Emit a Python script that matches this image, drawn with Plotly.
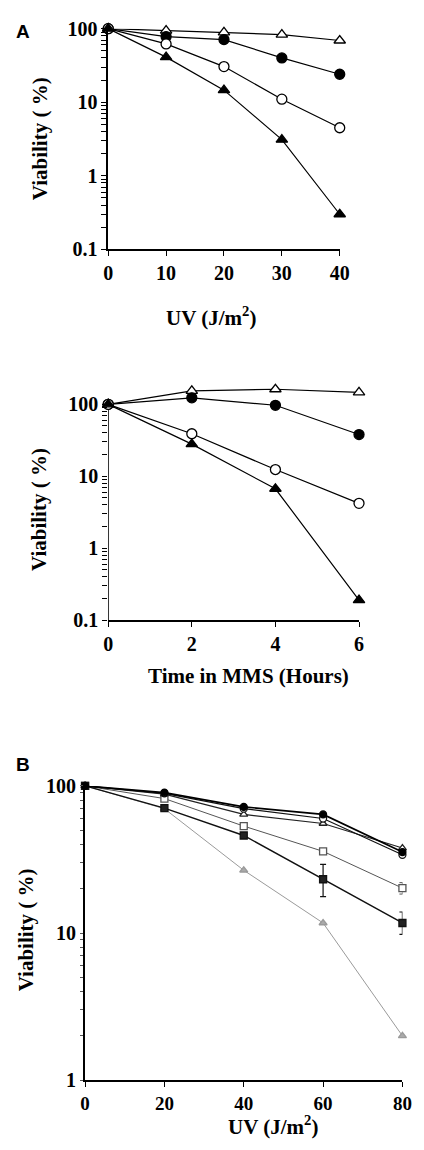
import math
import plotly.graph_objects as go

W, H = 424, 1150

# ---------------- Data ----------------
# Panel A (top): UV dose
uv_a = [0, 10, 20, 30, 40]
a1_open_tri = [100, 94, 89, 83, 69]
a1_fill_circ = [100, 78, 71, 40, 24]
a1_open_circ = [100, 62, 30.5, 11, 4.5]
a1_fill_tri = [100, 41, 14.6, 3.1, 0.30]

# Panel A (bottom): time in MMS
mms_t = [0, 2, 4, 6]
a2_open_tri = [100, 154, 162, 147]
a2_fill_circ = [100, 123, 97, 38]
a2_open_circ = [100, 39, 12.4, 4.2]
a2_fill_tri = [100, 28, 6.7, 0.19]

# Panel B: UV dose
uv_b = [0, 20, 40, 60, 80]
b_fill_circ = [100, 90, 72, 64, 35.5]
b_open_circ = [100, 89, 70, 60, 34]
b_open_tri = [100, 88, 64, 55.5, 37.8]
b_open_sq = [100, 82, 53.3, 35.9, 20.2]
b_open_sq_err = [0, 0, 0, 0, 1.8]
b_fill_sq = [100, 70.6, 46, 23.2, 11.7]
b_fill_sq_err_plus = [0, 0, 0, 6.1, 2.2]
b_fill_sq_err_minus = [0, 0, 0, 5.5, 1.9]
b_gray_tri = [100, 70, 26.7, 11.7, 2.0]

a_yticks = [0.1, 1, 10, 100]
a_yticktext = ["0.1", "1", "10", "100"]
b_yticks = [1, 10, 100]
b_yticktext = ["1", "10", "100"]

# ---------------- Helpers ----------------
def px_x(p):
    return p / W

def px_y(p):
    return 1 - p / H

def log_ticks(decades, labels):
    """Decade ticks with labels plus unlabeled 2..9 ticks within each decade."""
    vals, text = [], []
    for i, d in enumerate(decades):
        vals.append(d)
        text.append(labels[i])
        if i < len(decades) - 1:
            for k in range(2, 10):
                vals.append(round(d * k, 6))
                text.append("")
    return vals, text

SERIF = "Liberation Serif, Times New Roman, serif"

fig = go.Figure()

def add_series(x, y, xa, ya, symbol, fill, line_color, size, lw=1.2, mlw=1.3, err=None):
    kw = {}
    if err is not None:
        kw["error_y"] = err
    fig.add_trace(go.Scatter(
        x=x, y=y, xaxis=xa, yaxis=ya, mode="lines+markers",
        line=dict(color=line_color, width=lw),
        marker=dict(symbol=symbol, size=size, color=fill,
                    line=dict(color=line_color, width=mlw)),
        cliponaxis=False, showlegend=False, **kw))

# Panel A1
for y, sym, fill in [(a1_open_tri, "triangle-up", "white"),
                     (a1_fill_circ, "circle", "black"),
                     (a1_open_circ, "circle", "white"),
                     (a1_fill_tri, "triangle-up", "black")]:
    add_series(uv_a, y, "x", "y", sym, fill, "black", 10)

# Panel A2: y spine drawn only from 0.1 to 100 (the data go above 100)
fig.add_trace(go.Scatter(x=[mms_t[0], mms_t[0]], y=[a_yticks[0], a_yticks[-1]],
                         xaxis="x2", yaxis="y2", mode="lines",
                         line=dict(color="black", width=1.6),
                         hoverinfo="skip", showlegend=False, cliponaxis=False))
for y, sym, fill in [(a2_open_tri, "triangle-up", "white"),
                     (a2_fill_circ, "circle", "black"),
                     (a2_open_circ, "circle", "white"),
                     (a2_fill_tri, "triangle-up", "black")]:
    add_series(mms_t, y, "x2", "y2", sym, fill, "black", 10)

# Panel B
add_series(uv_b, b_gray_tri, "x3", "y3", "triangle-up", "#aaaaaa", "#9a9a9a", 7, lw=1)
add_series(uv_b, b_open_sq, "x3", "y3", "square", "white", "#555555", 7, lw=1,
           err=dict(type="data", array=b_open_sq_err, color="#555555", thickness=1, width=3))
add_series(uv_b, b_fill_sq, "x3", "y3", "square", "#222222", "#111111", 7, lw=1.4,
           err=dict(type="data", array=b_fill_sq_err_plus, arrayminus=b_fill_sq_err_minus,
                    color="#111111", thickness=1.2, width=3))
add_series(uv_b, b_open_tri, "x3", "y3", "triangle-up", "white", "#222222", 7, lw=1.2)
add_series(uv_b, b_open_circ, "x3", "y3", "circle", "white", "#111111", 7, lw=1.2)
add_series(uv_b, b_fill_circ, "x3", "y3", "circle", "black", "black", 7, lw=1.6)

def tickfont(size=20):
    return dict(family=SERIF, size=size, color="black", weight="bold")

def xaxis(domain, rng, tickvals, anchor, lw=1.6, fs=20):
    return dict(domain=domain, range=rng, tickmode="array", tickvals=tickvals,
                ticktext=[str(v) for v in tickvals], anchor=anchor,
                showline=True, linecolor="black", linewidth=lw,
                ticks="outside", ticklen=5, tickwidth=1.4, tickcolor="black",
                showgrid=False, zeroline=False, tickfont=tickfont(fs), fixedrange=True)

def yaxis(domain, rng, tickvals, ticktext, anchor, lw=1.6, ticklen=5, showline=True,
          tickcolor="black", fs=20):
    vals, text = log_ticks(tickvals, ticktext)
    return dict(domain=domain, type="log", range=rng, tickmode="array", tickvals=vals,
                ticktext=text, anchor=anchor,
                showline=showline, linecolor="black", linewidth=lw,
                ticks="outside", ticklen=ticklen, tickwidth=1.3, tickcolor=tickcolor,
                showgrid=False, zeroline=False, tickfont=tickfont(fs), fixedrange=True)

# Panel A2 range extends above 100 so that the >100 points are shown
a2_top = math.log10(180)
a2_pix_per_dec = (621 - 401) / 3.0
a2_top_px = 401 - (a2_top - 2) * a2_pix_per_dec

fig.update_layout(
    width=W, height=H,
    margin=dict(l=0, r=0, t=0, b=0),
    paper_bgcolor="white", plot_bgcolor="white",
    xaxis=xaxis([px_x(107), px_x(347)], [0, 40], uv_a, "y"),
    yaxis=yaxis([px_y(243), px_y(18)], [-1, 2], a_yticks, a_yticktext, "x"),
    xaxis2=xaxis([px_x(107), px_x(367)], [0, 6], mms_t, "y2"),
    yaxis2=yaxis([px_y(621), px_y(a2_top_px)], [-1, a2_top], a_yticks, a_yticktext, "x2",
                 showline=False),
    xaxis3=xaxis([px_x(83), px_x(412)], [0, 80], uv_b, "y3", lw=2, fs=19),
    yaxis3=yaxis([px_y(1090), px_y(790)], [0, 2], b_yticks, b_yticktext, "x3", lw=2,
                 ticklen=3, tickcolor="#555555"),
)

title_font = dict(family=SERIF, size=21, color="black", weight="bold")
letter_font = dict(family="Liberation Sans, Arial, sans-serif", size=19, color="black", weight="bold")

annotations = [
    dict(text="A", x=px_x(19), y=px_y(21), font=letter_font),
    dict(text="B", x=px_x(19), y=px_y(768), font=letter_font),
    dict(text="UV (J/m<sup>2</sup>)", x=px_x(214), y=px_y(311), font=title_font),
    dict(text="Time in MMS (Hours)", x=px_x(252), y=px_y(678), font=title_font),
    dict(text="UV (J/m<sup>2</sup>)", x=px_x(278), y=px_y(1136), font=title_font),
    dict(text="Viability ( %)", x=px_x(36), y=px_y(130), font=title_font, textangle=-90),
    dict(text="Viability ( %)", x=px_x(36), y=px_y(508), font=title_font, textangle=-90),
    dict(text="Viability ( %)", x=px_x(22), y=px_y(937), font=title_font, textangle=-90),
]
for a in annotations:
    a.update(xref="paper", yref="paper", showarrow=False, xanchor="center", yanchor="middle")
fig.update_layout(annotations=annotations)

fig.write_html("out.html", config={"displayModeBar": False},
               post_script="document.body.style.margin='0';document.body.style.overflow='hidden';")
